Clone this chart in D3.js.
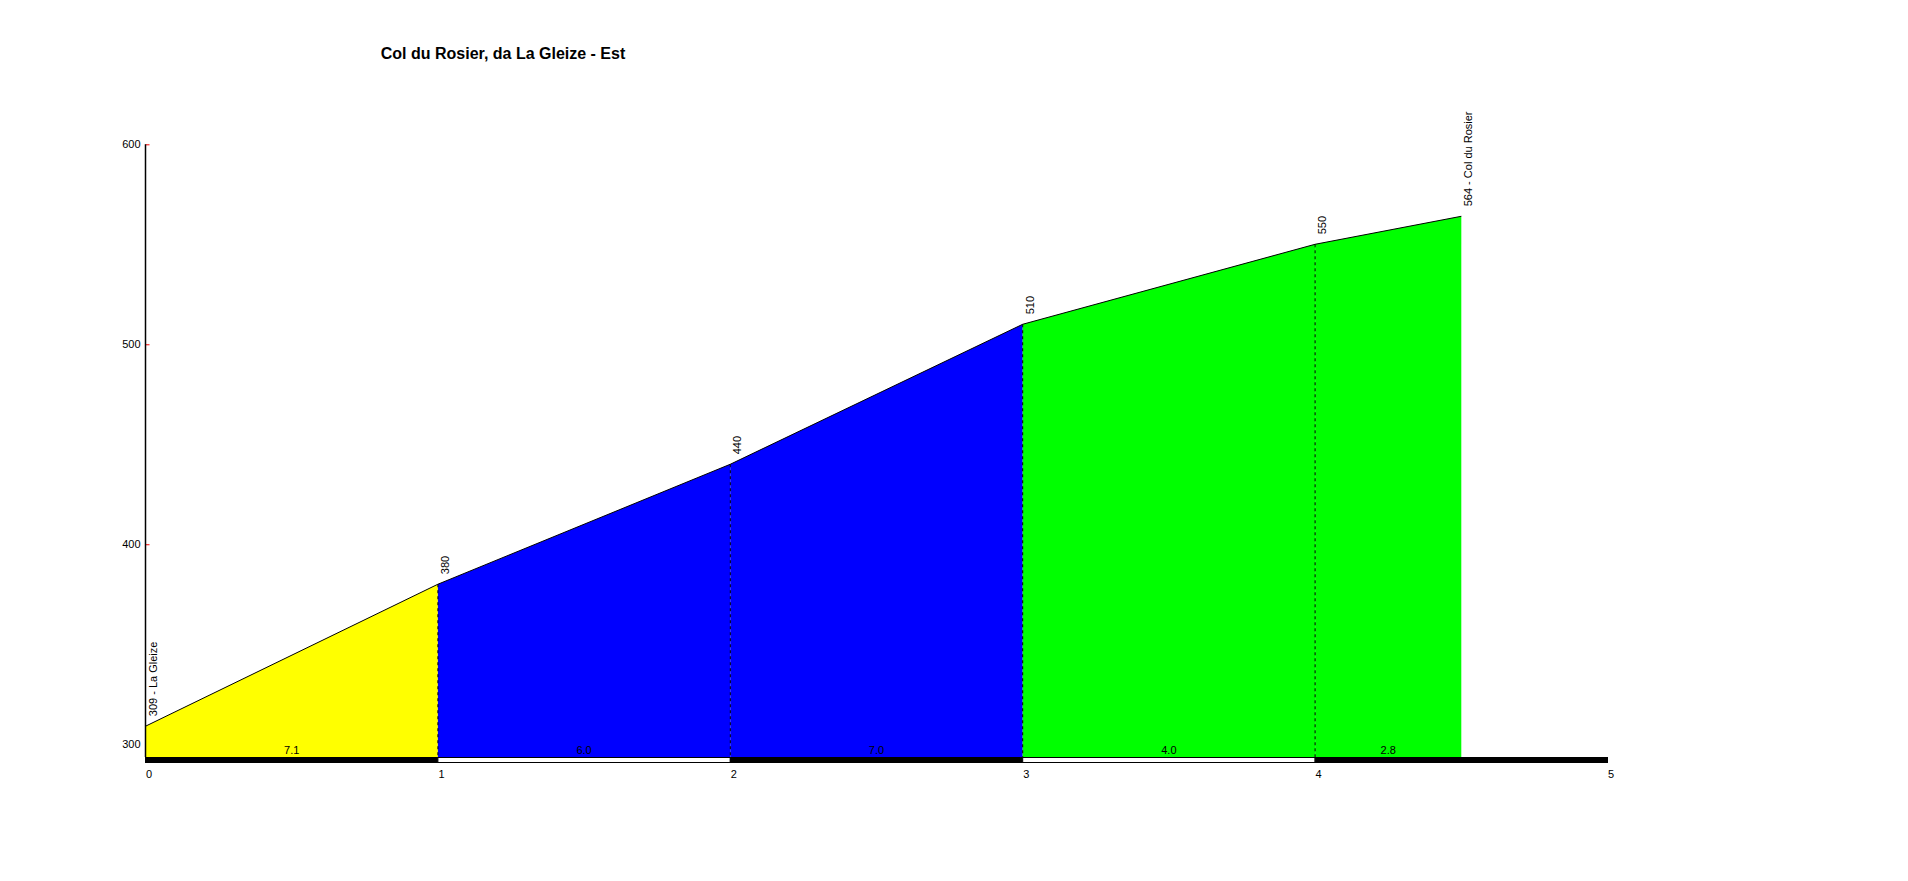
<!DOCTYPE html>
<html>
<head>
<meta charset="utf-8">
<script src="https://cdn.jsdelivr.net/npm/d3@7"></script>
<style>
  body { margin: 0; background: #fff; }
  text { font-family: "Liberation Sans", Arial, sans-serif; }
</style>
</head>
<body>
<svg id="profile"></svg>
<script>
// profile data (km from start, elevation in m)
var km = [0, 1, 2, 3, 4, 4.5];
var elev = [309, 380, 440, 510, 550, 564];
var placeNames = ["La Gleize", "", "", "", "", "Col du Rosier"];
// gradient per segment (%) and fill colour
var gradLabels = ["7.1", "6.0", "7.0", "4.0", "2.8"];
var segColors = ["#ffff00", "#0000ff", "#0000ff", "#00ff00", "#00ff00"];
var yTicks = [300, 400, 500, 600];
var xTicks = [0, 1, 2, 3, 4, 5];
var yBase = 293.6;

var width = 1908;
var height = 881;

var svg = d3.select("#profile")
    .attr("width", width)
    .attr("height", height);

svg.append("rect")
    .attr("width", width)
    .attr("height", height)
    .attr("fill", "#fff");

var x = d3.scaleLinear()
    .domain([0, 5])
    .range([145.5, 1607.5]);

var y = d3.scaleLinear()
    .domain([yBase, 600])
    .range([757, 144.3]);

var points = km.map(function(k, i) { return {km: k, elev: elev[i], name: placeNames[i]}; });

// title
svg.append("text")
    .attr("x", 503)
    .attr("y", 59)
    .attr("text-anchor", "middle")
    .style("font-size", "16px")
    .style("font-weight", "bold")
    .text("Col du Rosier, da La Gleize - Est");

// y axis ticks (red, under the fill)
var yAxis = svg.append("g")
    .attr("transform", "translate(" + x(0) + ",0)")
    .call(d3.axisLeft(y)
        .tickValues(yTicks)
        .tickSize(-4)
        .tickSizeOuter(0)
        .tickPadding(5));
yAxis.select(".domain").remove();
yAxis.selectAll(".tick line").attr("stroke", "#ff0000");
yAxis.selectAll(".tick text")
    .style("font-size", "11px")
    .style("font-family", "Liberation Sans, Arial, sans-serif")
    .attr("fill", "#000");

// coloured segments
var area = d3.area()
    .x(function(d) { return x(d.km); })
    .y0(y(yBase))
    .y1(function(d) { return y(d.elev); });

for (var i = 0; i < points.length - 1; i++) {
    svg.append("path")
        .datum([points[i], points[i + 1]])
        .attr("d", area)
        .attr("fill", segColors[i]);
}

// profile line
var line = d3.line()
    .x(function(d) { return x(d.km); })
    .y(function(d) { return y(d.elev); });

svg.append("path")
    .datum(points)
    .attr("d", line)
    .attr("fill", "none")
    .attr("stroke", "#000")
    .attr("stroke-width", 1);

// dashed verticals at each km
svg.selectAll(".kmline")
    .data(points.slice(1, points.length - 1))
    .enter().append("line")
    .attr("class", "kmline")
    .attr("x1", function(d) { return x(d.km); })
    .attr("x2", function(d) { return x(d.km); })
    .attr("y1", function(d) { return y(d.elev); })
    .attr("y2", y(yBase))
    .attr("stroke", "#000")
    .attr("stroke-width", 1)
    .attr("stroke-dasharray", "3,3");

// y axis line
svg.append("line")
    .attr("x1", x(0))
    .attr("x2", x(0))
    .attr("y1", y(600))
    .attr("y2", y(yBase))
    .attr("stroke", "#000")
    .attr("stroke-width", 1.5);

// gradient labels
svg.selectAll(".grad")
    .data(gradLabels)
    .enter().append("text")
    .attr("class", "grad")
    .attr("x", function(d, i) { return (x(km[i]) + x(km[i + 1])) / 2; })
    .attr("y", y(yBase) - 3)
    .attr("text-anchor", "middle")
    .style("font-size", "11px")
    .text(function(d) { return d; });

// km bar along the bottom
svg.selectAll(".kmbar")
    .data(xTicks.slice(0, xTicks.length - 1))
    .enter().append("rect")
    .attr("class", "kmbar")
    .attr("x", function(d) { return x(d); })
    .attr("width", function(d) { return x(d + 1) - x(d); })
    .attr("y", y(yBase) + 0.5)
    .attr("height", 5)
    .attr("fill", function(d, i) { return i % 2 == 0 ? "#000" : "#fff"; })
    .attr("stroke", "#000")
    .attr("stroke-width", 1);

// x axis labels
var xAxis = svg.append("g")
    .attr("transform", "translate(0," + (y(yBase) + 8) + ")")
    .call(d3.axisBottom(x)
        .tickValues(xTicks)
        .tickSize(0)
        .tickPadding(5)
        .tickFormat(d3.format("d")));
xAxis.select(".domain").remove();
xAxis.selectAll(".tick text")
    .attr("text-anchor", "start")
    .style("font-size", "11px")
    .style("font-family", "Liberation Sans, Arial, sans-serif")
    .attr("fill", "#000");

// elevation labels, rotated
svg.selectAll(".elev")
    .data(points)
    .enter().append("text")
    .attr("class", "elev")
    .attr("transform", function(d) {
        return "translate(" + (x(d.km) + 11) + "," + (y(d.elev) - 10) + ") rotate(-90)";
    })
    .style("font-size", "11px")
    .text(function(d) { return d.name ? d.elev + " - " + d.name : d.elev; });
</script>
</body>
</html>
